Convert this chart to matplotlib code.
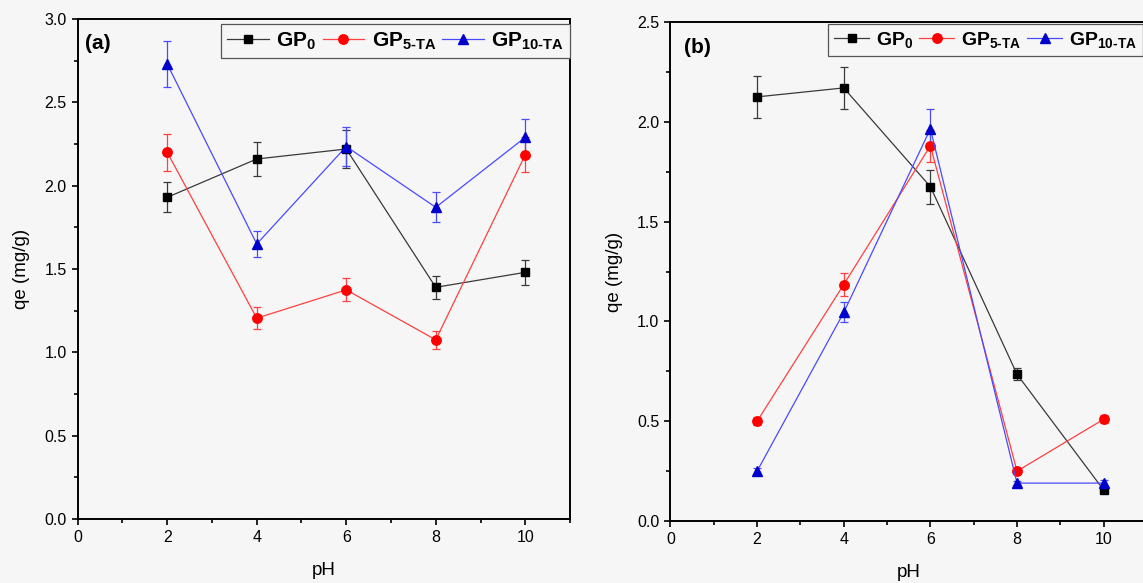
import matplotlib
matplotlib.use("Agg")
import matplotlib.pyplot as plt
from matplotlib.ticker import MultipleLocator

# pH values (shared by both panels)
ph = [2, 4, 6, 8, 10]

# panel (a)
a_gp0 = [1.93, 2.16, 2.22, 1.39, 1.48]
a_gp0_err = [0.09, 0.105, 0.115, 0.07, 0.075]
a_gp5 = [2.20, 1.205, 1.375, 1.075, 2.185]
a_gp5_err = [0.11, 0.065, 0.07, 0.055, 0.105]
a_gp10 = [2.73, 1.65, 2.235, 1.87, 2.29]
a_gp10_err = [0.14, 0.08, 0.115, 0.09, 0.11]

# panel (b)
b_gp0 = [2.125, 2.17, 1.675, 0.735, 0.155]
b_gp0_err = [0.105, 0.105, 0.085, 0.03, 0.015]
b_gp5 = [0.50, 1.185, 1.88, 0.25, 0.51]
b_gp5_err = [0.02, 0.06, 0.08, 0.01, 0.02]
b_gp10 = [0.25, 1.045, 1.965, 0.19, 0.19]
b_gp10_err = [0.015, 0.05, 0.10, 0.01, 0.015]

labels = ["GP$_{0}$", r"GP$_{5\text{-}TA}$", r"GP$_{10\text{-}TA}$"]

plt.rcParams["font.family"] = ["Liberation Sans", "DejaVu Sans"]
plt.rcParams["mathtext.fontset"] = "custom"
plt.rcParams["mathtext.rm"] = "Liberation Sans:bold"
plt.rcParams["mathtext.bf"] = "Liberation Sans:bold"
plt.rcParams["mathtext.default"] = "bf"

BG = "#f6f6f6"

# marker / line / errorbar style per series
styles = [
    dict(marker="s", ms=6.0, mfc="black", mec="black", color="#3a3a3a", ecolor="#3a3a3a"),
    dict(marker="o", ms=6.8, mfc="#ff0000", mec="#ff0000", color="#ff4040", ecolor="#ff4040"),
    dict(marker="^", ms=7.0, mfc="#0000cc", mec="#0000cc", color="#4a4aff", ecolor="#4a4aff"),
]


def draw_panel(ax, series, errs, ymax, tag, legend_kw):
    handles = []
    for y, e, st in zip(series, errs, styles):
        eb = ax.errorbar(ph, y, yerr=e, lw=0.9, elinewidth=0.9, capsize=2.6,
                         capthick=0.9, **st)
        handles.append(eb[0])

    ax.set_facecolor(BG)
    ax.set_xlim(0, 11)
    ax.set_ylim(0, ymax)
    ax.xaxis.set_major_locator(MultipleLocator(2))
    ax.xaxis.set_minor_locator(MultipleLocator(1))
    ax.yaxis.set_major_locator(MultipleLocator(0.5))
    ax.yaxis.set_minor_locator(MultipleLocator(0.25))
    ax.yaxis.set_major_formatter(plt.FormatStrFormatter("%.1f"))
    ax.tick_params(which="major", direction="out", length=4.5, width=1.2,
                   labelsize=11.5, colors="black")
    ax.tick_params(which="minor", direction="out", length=2.8, width=1.2)
    for s in ax.spines.values():
        s.set_linewidth(1.4)

    ax.set_xlabel("pH", fontsize=13.5, labelpad=12)
    ax.set_ylabel("qe (mg/g)", fontsize=13.5, labelpad=10)
    ax.text(tag[1], tag[2], tag[0], transform=ax.transAxes, fontsize=15,
            fontweight="bold", ha="left", va="center")

    leg = ax.legend(handles, labels, ncol=3, frameon=True, fancybox=False,
                    borderaxespad=0, handletextpad=0.35, columnspacing=0.3,
                    borderpad=0.3, handleheight=0.8,
                    prop={"weight": "bold", "size": legend_kw["size"]},
                    loc=legend_kw["loc"], bbox_to_anchor=legend_kw["anchor"],
                    handlelength=legend_kw["hl"])
    leg.get_frame().set_edgecolor("#555555")
    leg.get_frame().set_linewidth(0.9)
    leg.get_frame().set_facecolor(BG)
    leg.get_frame().set_alpha(1)


fig = plt.figure(figsize=(11.43, 5.83), dpi=100)
fig.patch.set_facecolor(BG)

ax1 = fig.add_axes([0.068, 0.1098, 0.4307, 0.8576])
ax2 = fig.add_axes([0.5866, 0.1063, 0.4169, 0.8559])

draw_panel(ax1, [a_gp0, a_gp5, a_gp10], [a_gp0_err, a_gp5_err, a_gp10_err], 3.0,
           ("(a)", 0.015, 0.952),
           dict(size=15, loc="upper right", anchor=(1.0, 0.99), hl=2.0))
draw_panel(ax2, [b_gp0, b_gp5, b_gp10], [b_gp0_err, b_gp5_err, b_gp10_err], 2.5,
           ("(b)", 0.028, 0.948),
           dict(size=14, loc="upper left", anchor=(0.3316, 0.996), hl=1.8))

fig.savefig("out.png", dpi=100, facecolor=BG)
